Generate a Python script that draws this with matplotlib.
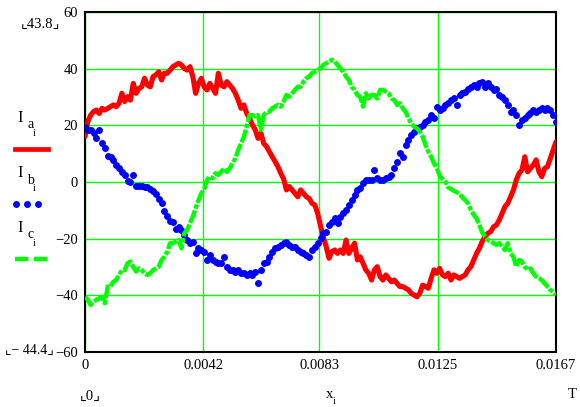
import numpy as np
import matplotlib
matplotlib.use("Agg")
import matplotlib.pyplot as plt

T = 0.0167
# phase currents, sampled evenly over one period (167 samples)
Ia = [16, 21.3, 23.6, 24.8, 25.4, 24.2, 26, 25.4, 26, 26.6,
      27.2, 26.6, 27.8, 31.3, 28.4, 30.1, 28.9, 34.8, 31.3, 33,
      33.6, 36.6, 34.2, 33.6, 37.2, 37.8, 38.9, 36, 38.4, 38.4,
      39.5, 40.7, 41.3, 41.9, 41.3, 40.1, 39.5, 40.7, 37.2, 31.3,
      34.8, 36.6, 33.6, 32.5, 34.8, 33, 31.3, 38.4, 34.2, 33.6,
      35.4, 34.2, 33, 31.3, 28.9, 26, 27.2, 24.2, 22.5, 20.1,
      18.4, 15.4, 17.2, 13.6, 12.5, 10.7, 8.9, 7.2, 5.4, 3.1,
      1.1, -2.8, -1.6, -2.8, -4, -5.2, -2.8, -4, -5.2, -5.8,
      -7.5, -8.1, -11.1, -15.4, -19.5, -22.8, -26.9, -24.6, -24, -25.2,
      -24, -25.2, -20.5, -25.2, -23.4, -21.6, -27.5, -26.4, -28.7, -31.1,
      -32.2, -34.6, -31.1, -29.9, -33.4, -34.6, -32.8, -34, -35.2, -34.6,
      -35.8, -36.9, -36.9, -37.5, -38.1, -39.3, -39.9, -40.5, -39.3, -36.4,
      -36.9, -37.5, -34, -31, -32.2, -30.5, -32.8, -33.4, -32.2, -34.6,
      -32.8, -33.4, -34, -33.4, -32.8, -31, -29.9, -27.5, -25.2, -23.4,
      -21, -19.3, -18.1, -17.5, -15.8, -15.2, -13.4, -11.1, -8.7, -7.5,
      -5.2, -2.8, 0.7, 3.1, 4.2, 8.9, 3.6, 4.8, 6, 7.8,
      3.6, 1.9, 4.8, 5.4, 8.4, 11.3, 14.2]
Ib = [19.5, 18.4, 18.4, 17.2, 15.4, 18.4, 13.6, 11.9, 9.3, 8.9,
      7.8, 6, 4.8, 3.6, 2.4, 0.5, -0.1, 2.4, -1.3, -1.3,
      -1.3, -1.9, -1.9, -2.5, -3.1, -4.2, -6, -7.5, -10.1, -11.9,
      -13.6, -14.2, -16.6, -15.8, -16.9, -18.7, -20.6, -21.6, -21, -25.2,
      -23.4, -24, -24.6, -27.5, -25.8, -27.5, -28.1, -28.7, -28.7, -26.4,
      -29.9, -31.1, -31.1, -31.6, -31.1, -32.2, -32.2, -32.8, -32.2, -32.8,
      -31.6, -35.8, -31.1, -28.7, -28.1, -26.4, -24.6, -23.4, -22.8, -22.2,
      -21.6, -21, -22.2, -22.8, -22.8, -24, -24.6, -25.2, -25.8, -26.4,
      -24, -22.8, -21.6, -19.9, -18.1, -17.5, -15.2, -14, -12.8, -14.6,
      -12.2, -11.1, -9.9, -8.1, -6.4, -4.6, -2.8, -2.2, -0.5, 0.7,
      0.7, 0.7, 4.2, 1.3, 0.7, 0.7, 1.3, 1.9, 2.5, 4.8,
      7.2, 10.1, 8.9, 13.1, 14.8, 16.6, 17.8, 18.9, 19.5, 20.1,
      21.3, 21.9, 23.6, 22.5, 26.6, 25.4, 26, 27.2, 27.8, 28.9,
      29.5, 27.2, 30.7, 31.3, 31.9, 33, 33.6, 34.2, 33.6, 34.8,
      35.4, 33.6, 34.8, 33.6, 32.5, 33, 30.7, 30.1, 28.9, 27.2,
      24.8, 25.4, 23.6, 20.1, 21.9, 22.5, 23.6, 24.2, 25.4, 24.8,
      25.4, 26, 25.4, 26, 25.4, 23.6, 21.3]
Ic = [-40.5, -41.6, -43.4, -42.2, -41.6, -41.1, -40.5, -42.8, -36.9, -36.9,
      -35.2, -34.6, -32.8, -31.1, -31.1, -28.7, -28.1, -29.9, -31.6, -30.5,
      -31.1, -32.2, -32.8, -32.2, -31.1, -30.5, -29.9, -27.5, -26.4, -24.6,
      -21.6, -21.6, -21, -20.5, -23.4, -18.1, -16.9, -14.6, -12.2, -9.3,
      -6.4, -4, -2.5, 0.7, 1.9, 1.3, 3.1, 2.5, 3.6, 4.8,
      3.6, 4.8, 6.6, 8.4, 11.3, 13.6, 16, 19.5, 23.6, 23.6,
      23.1, 23.6, 18.4, 23.6, 24.8, 24.8, 26, 26.6, 27.2, 26.6,
      28.4, 30.7, 30.1, 31.3, 32.5, 33.6, 33.6, 35.4, 36.6, 37.2,
      38.4, 38.9, 39.5, 40.1, 41.3, 41.9, 42.5, 43.1, 42.5, 41.3,
      40.1, 38.9, 37.2, 36, 33.6, 32.5, 30.7, 30.1, 26.6, 31.3,
      29.5, 30.7, 30.7, 29.5, 32.5, 32.5, 31.9, 31.3, 29.5, 28.9,
      27.2, 27.8, 26, 24.8, 22.5, 20.7, 19.5, 18.9, 17.8, 16,
      13.1, 10.7, 8.9, 6.6, 4.8, 2.2, 1.1, 0.1, -1.9, -2.5,
      -3.1, -3.6, -4.2, -5.4, -6.4, -7.5, -9.9, -11.6, -12.8, -15.2,
      -17.8, -19.3, -20.5, -21, -21.6, -22.2, -21.6, -22.8, -24, -21.6,
      -25.2, -26.4, -29.9, -27.5, -28.1, -29.9, -31, -30.5, -32.2, -33.4,
      -34, -34.6, -35.8, -36.9, -38.1, -38.7, -39.9]
x = np.linspace(0, T, len(Ia))

xticks = [0, 0.0042, 0.0083, 0.0125, 0.0167]
xticklabels = ["0", "0.0042", "0.0083", "0.0125", "0.0167"]
yticks = [-60, -40, -20, 0, 20, 40, 60]

RED, BLUE, GREEN = "#ff0000", "#0000ff", "#00ff00"
W, H = 580, 407
serif = ["Liberation Serif", "DejaVu Sans"]
plt.rcParams["font.family"] = serif

fig = plt.figure(figsize=(W / 100, H / 100), dpi=100)
ax = fig.add_axes([85 / W, 1 - 352 / H, 471 / W, 340 / H])

ax.plot(x, Ia, color=RED, lw=3.7, solid_capstyle="round", solid_joinstyle="round", zorder=3)
ax.plot(x, Ib, color=BLUE, ls="none", marker="o", ms=5, mew=0, zorder=3)
ax.plot(x, Ic, color=GREEN, lw=3.2, dashes=(3, 0.4, 3, 0.4, 1, 0.4), zorder=3)

ax.set_xlim(0, T)
ax.set_ylim(-60, 60)
ax.set_xticks(xticks)
ax.set_xticklabels(xticklabels)
ax.set_yticks(yticks)
ax.grid(True, color=GREEN, lw=1)
ax.tick_params(length=0, labelsize=10.5, pad=5)
for s in ax.spines.values():
    s.set_color("black")
    s.set_linewidth(1.5)


def px(xp, yp):
    return xp / W, 1 - yp / H


def label(xp, yp, s, size=10.5, ha="left"):
    fig.text(*px(xp, yp), s, fontsize=size, ha=ha, va="center", family=serif)


# axis limit markers
label(21, 24, "\u231e43.8\u231f")
label(5, 350, "\u231e\u2212 44.4\u231f", size=10)
label(80, 396, "\u231e0\u231f")
label(568, 394, "T")
label(326, 395, "x")
label(333, 402, "i", size=7)

# legend column on the left
rows = [(118, "a", 149, "solid"), (173, "b", 204, "dots"), (228, "c", 259, "dash")]
for y0, sub, ys, kind in rows:
    label(17, y0, "I", size=12)
    label(27, y0 + 7, sub, size=10)
    label(33, y0 + 15, "i", size=7)
    a, b = px(15, ys), px(48, ys)
    if kind == "solid":
        fig.add_artist(plt.Line2D([a[0], b[0]], [a[1], a[1]], color=RED, lw=3.4))
    elif kind == "dots":
        for xp in (16, 27, 38):
            fig.add_artist(plt.Line2D([px(xp, ys)[0]], [a[1]], color=BLUE,
                                      marker="o", ms=5, mew=0))
    else:
        fig.add_artist(plt.Line2D([a[0], b[0]], [a[1], a[1]], color=GREEN, lw=3.2,
                                  dashes=(3, 1.2, 3, 1.2, 1, 1.2)))

fig.savefig("out.png", dpi=100)
